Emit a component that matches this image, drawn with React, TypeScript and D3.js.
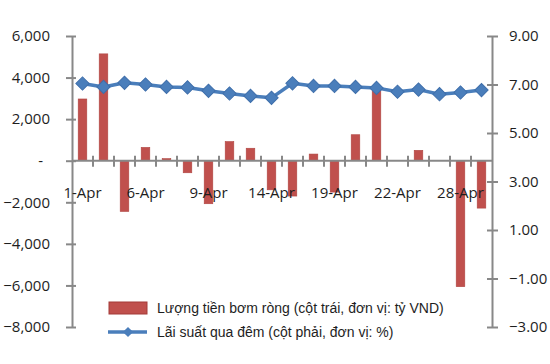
import { useEffect, useRef } from 'react';
import * as d3 from 'd3';

// trading days shown on the category axis
const days = [
  '1-Apr', '2-Apr', '5-Apr', '6-Apr', '7-Apr', '8-Apr', '9-Apr', '12-Apr', '13-Apr', '14-Apr',
  '15-Apr', '16-Apr', '19-Apr', '20-Apr', '21-Apr', '22-Apr', '23-Apr', '26-Apr', '28-Apr', '29-Apr'
];

// net injection, billion VND (left axis)
const netInjection = [
  2970, 5140, -2440, 640, 100, -580, -2070, 920, 600, -1400,
  -1700, 320, -1510, 1250, 3390, 0, 500, 0, -6060, -2280
];

// overnight rate, % (right axis)
const overnightRate = [
  7.04, 6.9, 7.07, 7.0, 6.9, 6.88, 6.74, 6.63, 6.53, 6.45,
  7.05, 6.94, 6.94, 6.9, 6.86, 6.7, 6.79, 6.6, 6.67, 6.77
];

const leftTicks = [-8000, -6000, -4000, -2000, 0, 2000, 4000, 6000];
const rightTicks = [-3, -1, 1, 3, 5, 7, 9];
const labelEvery = 3;

const barLabel = 'Lượng tiền bơm ròng (cột trái, đơn vị: tỷ VND)';
const lineLabel = 'Lãi suất qua đêm (cột phải, đơn vị: %)';

export default function App() {
  const svgRef = useRef<SVGSVGElement>(null);

  useEffect(() => {
    const svg = d3.select(svgRef.current);
    svg.selectAll('*').remove();

    const width = 550;
    const height = 364;
    const left = 72;
    const right = 492;
    const top = 36;
    const bottom = 327;

    const axisColor = '#888888';
    const textColor = '#1e1e1e';
    const barColor = '#c0504d';
    const lineColor = '#4a7ebb';
    const tickFont = '"Open Sans", sans-serif';

    svg.attr('width', width).attr('height', height);

    const x = d3.scaleBand<string>().domain(days).range([left, right]).padding(0);
    const yL = d3.scaleLinear().domain([-8000, 6000]).range([bottom, top]);
    const yR = d3.scaleLinear().domain([-3, 9]).range([bottom, top]);
    const barW = x.bandwidth() * 0.41;

    // bars
    svg.append('g')
      .selectAll('rect')
      .data(netInjection.map((v, i) => ({ v, day: days[i] })))
      .join('rect')
      .attr('x', d => x(d.day)! + x.bandwidth() / 2 - barW / 2)
      .attr('y', d => yL(Math.max(0, d.v)))
      .attr('width', barW)
      .attr('height', d => Math.abs(yL(d.v) - yL(0)))
      .attr('fill', barColor)
      .attr('stroke', '#b04542')
      .attr('stroke-width', 0.6);

    // left axis
    const gL = svg.append('g')
      .attr('transform', `translate(${left},0)`)
      .call(d3.axisLeft(yL).tickValues(leftTicks).tickSizeInner(6).tickSizeOuter(0).tickPadding(16)
        .tickFormat(d => (+d === 0 ? '-' : d3.format(',')(+d))));
    gL.select('.domain').attr('stroke', axisColor).attr('stroke-width', 2);
    gL.selectAll('.tick line').attr('stroke', axisColor).attr('stroke-width', 2).attr('x2', -6).attr('x1', 4);
    gL.selectAll('.tick text')
      .attr('fill', textColor)
      .style('font-family', tickFont)
      .style('font-size', '15px')
      .attr('x', (d: any) => (+d === 0 ? -29 : -22));

    // right axis
    const gR = svg.append('g')
      .attr('transform', `translate(${right},0)`)
      .call(d3.axisRight(yR).tickValues(rightTicks).tickSizeInner(6).tickSizeOuter(0).tickPadding(12)
        .tickFormat(d3.format('.2f')));
    gR.select('.domain').attr('stroke', axisColor).attr('stroke-width', 2);
    gR.selectAll('.tick line').attr('stroke', axisColor).attr('stroke-width', 2).attr('x1', -5);
    gR.selectAll('.tick text')
      .attr('fill', textColor)
      .style('font-family', tickFont)
      .style('font-size', '15px')
      .attr('x', 17);

    // category axis at zero
    const y0 = yL(0);
    const gX = svg.append('g');
    gX.append('line')
      .attr('x1', left).attr('x2', right)
      .attr('y1', y0).attr('y2', y0)
      .attr('stroke', axisColor).attr('stroke-width', 2);
    gX.selectAll('line.tk')
      .data(days.slice(1))
      .join('line')
      .attr('class', 'tk')
      .attr('x1', d => x(d)!).attr('x2', d => x(d)!)
      .attr('y1', y0 - 5).attr('y2', y0 + 6)
      .attr('stroke', axisColor).attr('stroke-width', 2);
    gX.selectAll('text')
      .data(days.filter((_, i) => i % labelEvery === 0))
      .join('text')
      .attr('x', d => x(d)! + x.bandwidth() / 2)
      .attr('y', 198)
      .attr('text-anchor', 'middle')
      .attr('fill', textColor)
      .style('font-family', tickFont)
      .style('font-size', '15px')
      .text(d => d);

    // overnight rate line
    const line = d3.line<number>()
      .x((_, i) => x(days[i])! + x.bandwidth() / 2)
      .y(d => yR(d));
    svg.append('path')
      .datum(overnightRate)
      .attr('d', line)
      .attr('fill', 'none')
      .attr('stroke', lineColor)
      .attr('stroke-width', 3.5)
      .attr('stroke-linejoin', 'round');

    const diamond = d3.symbol(d3.symbolSquare, 88);
    svg.append('g')
      .selectAll('path')
      .data(overnightRate)
      .join('path')
      .attr('d', diamond)
      .attr('transform', (d, i) => `translate(${x(days[i])! + x.bandwidth() / 2},${yR(d)}) rotate(45)`)
      .attr('fill', lineColor)
      .attr('stroke', '#3f6fab')
      .attr('stroke-width', 1);

    // legend
    const legend = svg.append('g').style('font-family', '"Liberation Sans", Arial, sans-serif').style('font-size', '14px');
    legend.append('rect')
      .attr('x', 109).attr('y', 302).attr('width', 38).attr('height', 12)
      .attr('fill', barColor).attr('stroke', '#a33b38').attr('stroke-width', 1);
    legend.append('text')
      .attr('x', 157).attr('y', 312.5).attr('fill', textColor)
      .text(barLabel);
    legend.append('line')
      .attr('x1', 108).attr('x2', 147).attr('y1', 332).attr('y2', 332)
      .attr('stroke', lineColor).attr('stroke-width', 3.5);
    legend.append('path')
      .attr('d', d3.symbol(d3.symbolSquare, 52))
      .attr('transform', 'translate(128,332) rotate(45)')
      .attr('fill', lineColor);
    legend.append('text')
      .attr('x', 157).attr('y', 337).attr('fill', textColor)
      .text(lineLabel);
  }, []);

  return (
    <div style={{ position: 'absolute', left: 0, top: 0, background: 'white' }}>
      <svg ref={svgRef}></svg>
    </div>
  );
}
